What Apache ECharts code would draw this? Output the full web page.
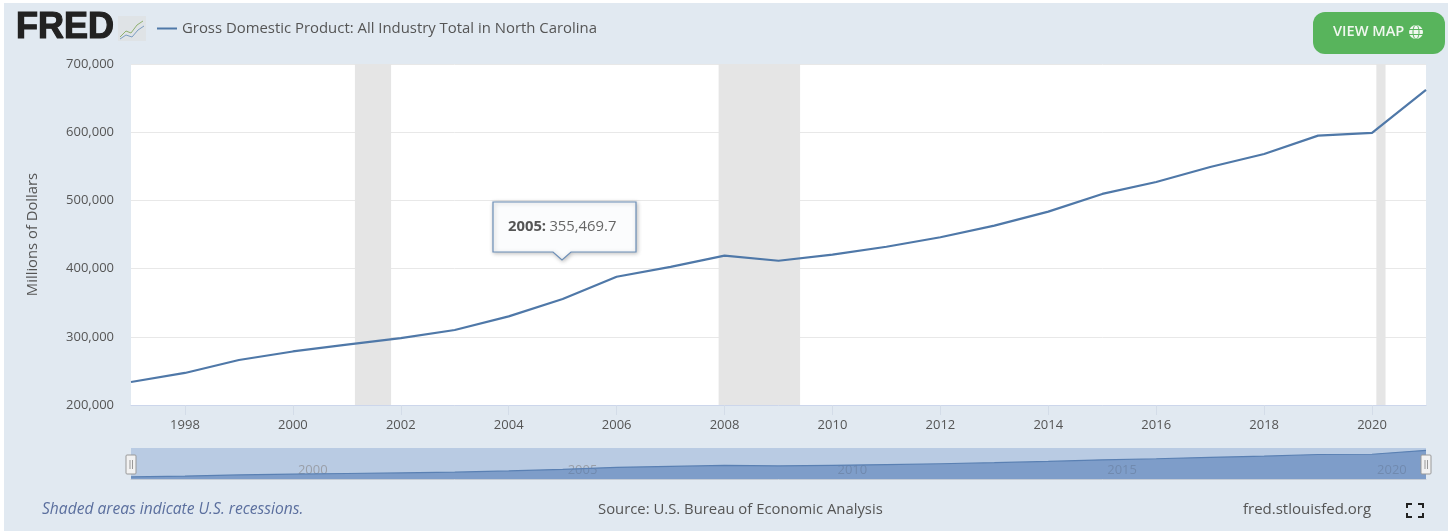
<!DOCTYPE html>
<html><head><meta charset="utf-8">
<style>html,body{margin:0;padding:0;background:#fff}#c{width:1448px;height:531px}</style>
<script src="https://cdn.jsdelivr.net/npm/echarts@6/dist/echarts.min.js"></script>
</head><body><div id="c"></div>
<script>
const years=[1997,1998,1999,2000,2001,2002,2003,2004,2005,2006,2007,2008,2009,2010,2011,2012,2013,2014,2015,2016,2017,2018,2019,2020,2021];
const gdp=[233700,247000,266000,278500,288500,298000,310000,330000,355469.7,388000,402500,419000,411500,420500,432000,446000,463000,483500,509500,527000,549000,568000,595000,599000,662000];
const recessions=[[2001.15,2001.82],[2007.89,2009.40],[2020.08,2020.25]];
const mainTicks=[1998,2000,2002,2004,2006,2008,2010,2012,2014,2016,2018,2020];
const navTicks=[2000,2005,2010,2015,2020];
const seriesName='Gross Domestic Product: All Industry Total in North Carolina';
const F='"Open Sans",sans-serif';
const pts=years.map((y,i)=>[y,gdp[i]]);
const chart=echarts.init(document.getElementById('c'),null,{renderer:'canvas'});
const txt=(x,y,text,o={})=>({type:'text',x,y,z:10,style:Object.assign({text,fill:'#555',font:'13px '+F,textVerticalAlign:'middle'},o)});
chart.setOption({
 animation:false,
 backgroundColor:'#ffffff',
 legend:{data:[seriesName],left:152,top:16,itemWidth:20,itemHeight:2,itemGap:5,icon:'rect',
   textStyle:{color:'#555',fontFamily:F,fontSize:14.9}},
 grid:[
  {left:131,right:22,top:64,height:341,backgroundColor:'#fff',show:true,borderWidth:0},
  {left:131,right:22,top:448,height:31,backgroundColor:'#b9cbe3',show:true,borderWidth:0}
 ],
 xAxis:[
  {type:'value',gridIndex:0,min:1997,max:2021,splitLine:{show:false},
   axisLine:{show:true,lineStyle:{color:'#ccd6eb'}},
   axisTick:{show:true,length:10,customValues:mainTicks,lineStyle:{color:'#d3dce8'}},
   axisLabel:{customValues:mainTicks,formatter:v=>String(v),color:'#555',fontFamily:F,fontSize:13,margin:14}},
  {type:'value',gridIndex:1,min:1997,max:2021,z:0,splitLine:{show:false},
   axisLine:{show:true,lineStyle:{color:'#c3cbd6'}},axisTick:{show:false},
   axisLabel:{customValues:navTicks,formatter:v=>String(v),inside:true,align:'left',padding:[0,0,0,5],color:'#9a9fa8',fontFamily:F,fontSize:13,margin:2}}
 ],
 yAxis:[
  {type:'value',gridIndex:0,min:200000,max:700000,interval:100000,name:'Millions of Dollars',nameLocation:'middle',nameGap:91,
   nameTextStyle:{color:'#555',fontFamily:F,fontSize:14.8},
   axisLine:{show:false},axisTick:{show:false},splitLine:{lineStyle:{color:'#e8e8e8'}},
   axisLabel:{color:'#555',fontFamily:F,fontSize:13,margin:17,formatter:v=>v.toLocaleString('en-US')}},
  {type:'value',gridIndex:1,min:200000,max:700000,show:false,splitLine:{show:false}}
 ],
 series:[
  {name:seriesName,type:'line',xAxisIndex:0,yAxisIndex:0,data:pts,showSymbol:false,silent:true,
   lineStyle:{color:'#4f78a8',width:2.2},itemStyle:{color:'#4f78a8'},
   markArea:{silent:true,itemStyle:{color:'#e5e5e5'},data:recessions.map(r=>[{xAxis:r[0]},{xAxis:r[1]}])}},
  {name:'navigator',type:'line',xAxisIndex:1,yAxisIndex:1,data:pts,showSymbol:false,silent:true,
   lineStyle:{color:'#5a80b3',width:1.2},itemStyle:{color:'#5a80b3'},
   areaStyle:{color:'#4f78b4',opacity:.55}}
 ],
 graphic:[
  {type:'rect',z:-10,silent:true,shape:{x:4,y:3,width:1444,height:528},style:{fill:'#e1e9f1'}},
  // logo
  txt(16,28,'FRED',{font:'bold 36px "Liberation Sans",sans-serif',fill:'#222',stroke:'#222',lineWidth:1.2}),
  {type:'rect',z:10,shape:{x:118,y:16,width:28,height:25},style:{fill:'#dfe3e6'}},
  {type:'polyline',z:11,shape:{points:[[120,37],[126,31],[131,33],[137,25],[143,21]]},style:{stroke:'#8fb06f',fill:'none',lineWidth:1}},
  {type:'polyline',z:11,shape:{points:[[120,39],[126,35],[132,37],[138,30],[144,26]]},style:{stroke:'#7b9cc0',fill:'none',lineWidth:1}},
  // button
  {type:'rect',z:10,shape:{x:1313,y:12,width:132,height:42,r:12},style:{fill:'#58b45c'}},
  txt(1333,32,'VIEW MAP',{fill:'#f0f7ef',font:'600 14.6px '+F}),
  {type:'circle',z:11,shape:{cx:1416,cy:32,r:7},style:{fill:'#f0f7ef'}},
  {type:'line',z:12,shape:{x1:1409,y1:29.5,x2:1423,y2:29.5},style:{stroke:'#58b45c',lineWidth:1}},
  {type:'line',z:12,shape:{x1:1409,y1:34.5,x2:1423,y2:34.5},style:{stroke:'#58b45c',lineWidth:1}},
  {type:'ellipse',z:12,shape:{cx:1416,cy:32,rx:3,ry:7},style:{stroke:'#58b45c',fill:'none',lineWidth:1}},
  // tooltip
  {type:'polygon',z:20,shape:{points:[[493,202],[636,202],[636,252],[571,252],[562,260],[553,252],[493,252]]},
   style:{fill:'#fbfcfd',stroke:'#6d8fb8',lineWidth:1.2,shadowBlur:4,shadowColor:'rgba(0,0,0,.25)',shadowOffsetX:1,shadowOffsetY:1}},
  {type:'text',z:21,x:508,y:227,style:{text:'{b|2005:} {n|355,469.7}',textVerticalAlign:'middle',
    rich:{b:{fontWeight:'bold',fontSize:14.8,fontFamily:F,fill:'#555'},n:{fontSize:14.8,fontFamily:F,fill:'#666'}}}},
  // navigator handles
  {type:'rect',z:15,shape:{x:126,y:455,width:10,height:19,r:1},style:{fill:'#f2f2f2',stroke:'#999',lineWidth:1}},
  {type:'line',z:16,shape:{x1:130,y1:460,x2:130,y2:469},style:{stroke:'#999',lineWidth:1}},
  {type:'line',z:16,shape:{x1:132.5,y1:460,x2:132.5,y2:469},style:{stroke:'#999',lineWidth:1}},
  {type:'rect',z:15,shape:{x:1421,y:455,width:10,height:19,r:1},style:{fill:'#f2f2f2',stroke:'#999',lineWidth:1}},
  {type:'line',z:16,shape:{x1:1425,y1:460,x2:1425,y2:469},style:{stroke:'#999',lineWidth:1}},
  {type:'line',z:16,shape:{x1:1427.5,y1:460,x2:1427.5,y2:469},style:{stroke:'#999',lineWidth:1}},
  // footer
  txt(42,509.5,'Shaded areas indicate U.S. recessions.',{font:'italic 15.6px '+F,fill:'#5b6f9e'}),
  txt(598,509.5,'Source: U.S. Bureau of Economic Analysis',{font:'14.85px '+F,fill:'#555'}),
  txt(1243,509.5,'fred.stlouisfed.org',{font:'15px '+F,fill:'#555'}),
  // fullscreen icon
  {type:'polyline',z:10,shape:{points:[[1407,508],[1407,504],[1412,504]]},style:{stroke:'#222',fill:'none',lineWidth:2}},
  {type:'polyline',z:10,shape:{points:[[1418,504],[1423,504],[1423,508]]},style:{stroke:'#222',fill:'none',lineWidth:2}},
  {type:'polyline',z:10,shape:{points:[[1407,513],[1407,517],[1412,517]]},style:{stroke:'#222',fill:'none',lineWidth:2}},
  {type:'polyline',z:10,shape:{points:[[1418,517],[1423,517],[1423,513]]},style:{stroke:'#222',fill:'none',lineWidth:2}}
 ]
});
</script></body></html>
